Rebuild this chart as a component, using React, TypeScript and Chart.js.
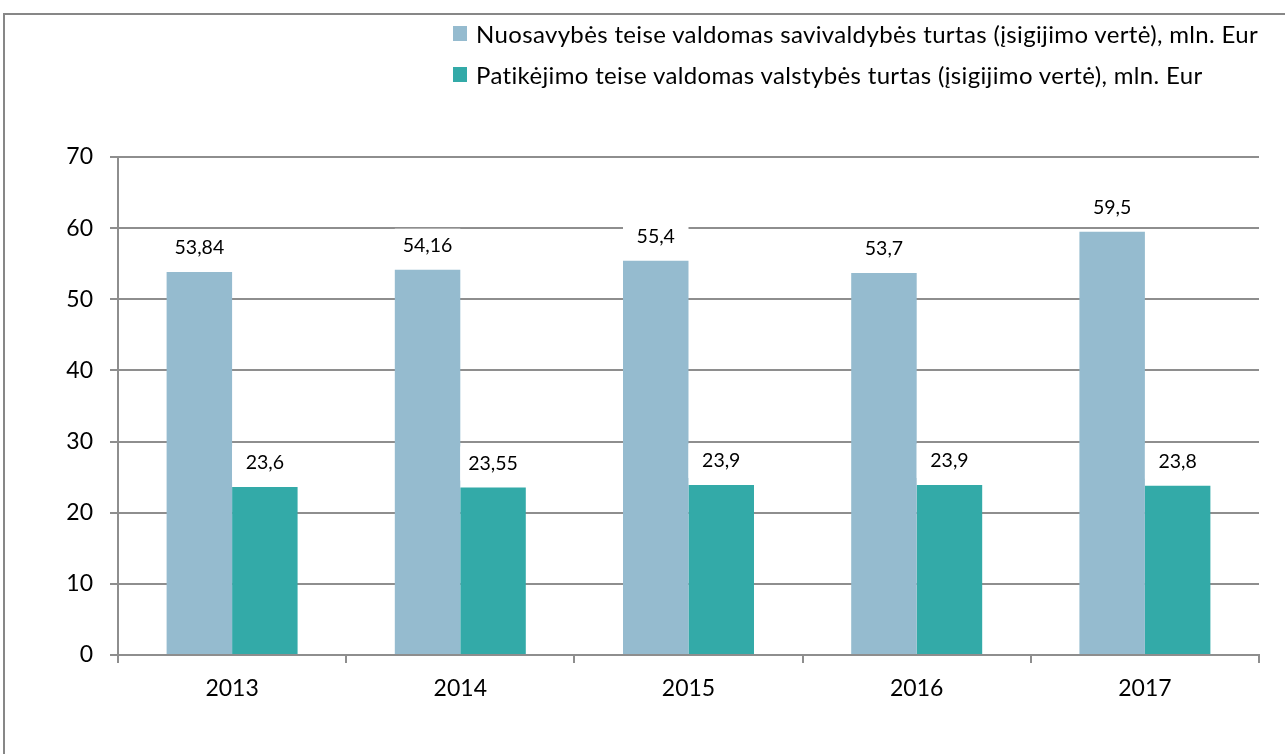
import React, { useEffect, useRef } from "react";
import { Chart, registerables } from "chart.js";

Chart.register(...registerables);

const categories = ["2013", "2014", "2015", "2016", "2017"];
const seriesNames = [
  "Nuosavybės teise valdomas savivaldybės turtas (įsigijimo vertė), mln. Eur",
  "Patikėjimo teise valdomas valstybės turtas (įsigijimo vertė), mln. Eur",
];
const municipalValues = [53.84, 54.16, 55.4, 53.7, 59.5];
const stateValues = [23.6, 23.55, 23.9, 23.9, 23.8];
const yTicks = [0, 10, 20, 30, 40, 50, 60, 70];

const colors = ["#95BBCF", "#33AAA8"];
const FONT = "Lato, 'Open Sans', sans-serif";

const labelPlugin = {
  id: "valueLabels",
  afterDatasetsDraw(chart: any) {
    const ctx = chart.ctx;
    ctx.save();
    chart.data.datasets.forEach((ds: any, di: number) => {
      const meta = chart.getDatasetMeta(di);
      meta.data.forEach((el: any, i: number) => {
        const v = ds.data[i];
        const text = String(v).replace(".", ",");
        const w = el.width;
        const cy = el.y - 24;
        ctx.fillStyle = "#ffffff";
        ctx.fillRect(el.x - w / 2, cy - 17, w, 34);
        ctx.fillStyle = "#000000";
        ctx.font = `19.5px ${FONT}`;
        ctx.textAlign = "center";
        ctx.textBaseline = "middle";
        ctx.fillText(text, el.x, cy);
      });
    });
    ctx.restore();
  },
};

export default function App() {
  const ref = useRef<HTMLCanvasElement>(null);
  useEffect(() => {
    if (!ref.current) return;
    const chart = new Chart(ref.current, {
      type: "bar",
      data: {
        labels: categories,
        datasets: [
          {
            label: seriesNames[0],
            data: municipalValues,
            backgroundColor: colors[0],
            barPercentage: 1,
            categoryPercentage: 0.574,
          },
          {
            label: seriesNames[1],
            data: stateValues,
            backgroundColor: colors[1],
            barPercentage: 1,
            categoryPercentage: 0.574,
          },
        ],
      },
      options: {
        animation: false,
        responsive: false,
        maintainAspectRatio: false,
        layout: { padding: { left: 0, top: 157, right: 26, bottom: 0 } },
        plugins: {
          legend: { display: false },
          tooltip: { enabled: false },
        },
        scales: {
          x: {
            offset: true,
            grid: {
              offset: true,
              drawOnChartArea: false,
              drawTicks: true,
              tickLength: 8,
              color: "#8e8e8e",
              lineWidth: 2,
            },
            border: { color: "#8e8e8e", width: 2 },
            ticks: {
              color: "#000",
              font: { family: FONT, size: 23 },
              padding: 12,
            },
            afterFit(scale: any) {
              scale.height = 99;
            },
          },
          y: {
            min: 0,
            max: 70,
            afterBuildTicks(scale: any) {
              scale.ticks = yTicks.map((v) => ({ value: v }));
            },
            grid: {
              color: "#8e8e8e",
              lineWidth: 2,
              drawTicks: true,
              tickLength: 8,
            },
            border: { color: "#8e8e8e", width: 2 },
            ticks: {
              color: "#000",
              font: { family: FONT, size: 23 },
              padding: 17,
            },
            afterFit(scale: any) {
              scale.width = 118;
            },
          },
        },
      },
      plugins: [labelPlugin],
    });
    return () => chart.destroy();
  }, []);

  const legendRow = (i: number, top: number) => (
    <div
      key={i}
      style={{
        position: "absolute",
        left: 453,
        top,
        height: 30,
        display: "flex",
        alignItems: "center",
        whiteSpace: "nowrap",
      }}
    >
      <span
        style={{
          display: "inline-block",
          width: 14,
          height: 15,
          background: colors[i],
          marginRight: 9,
        }}
      />
      <span style={{ fontFamily: FONT, fontSize: 24, letterSpacing: 0.35, color: "#000" }}>
        {seriesNames[i]}
      </span>
    </div>
  );

  return (
    <div
      style={{
        position: "fixed",
        left: 0,
        top: 0,
        width: 1285,
        height: 754,
        overflow: "hidden",
        background: "#fff",
      }}
    >
      <div
        style={{
          position: "absolute",
          left: 3,
          top: 13,
          width: 1400,
          height: 900,
          borderLeft: "2px solid #878787",
          borderTop: "2px solid #878787",
        }}
      />
      <canvas ref={ref} width={1285} height={754} style={{ position: "absolute", left: 0, top: 0 }} />
      {legendRow(0, 18)}
      {legendRow(1, 59)}
    </div>
  );
}
